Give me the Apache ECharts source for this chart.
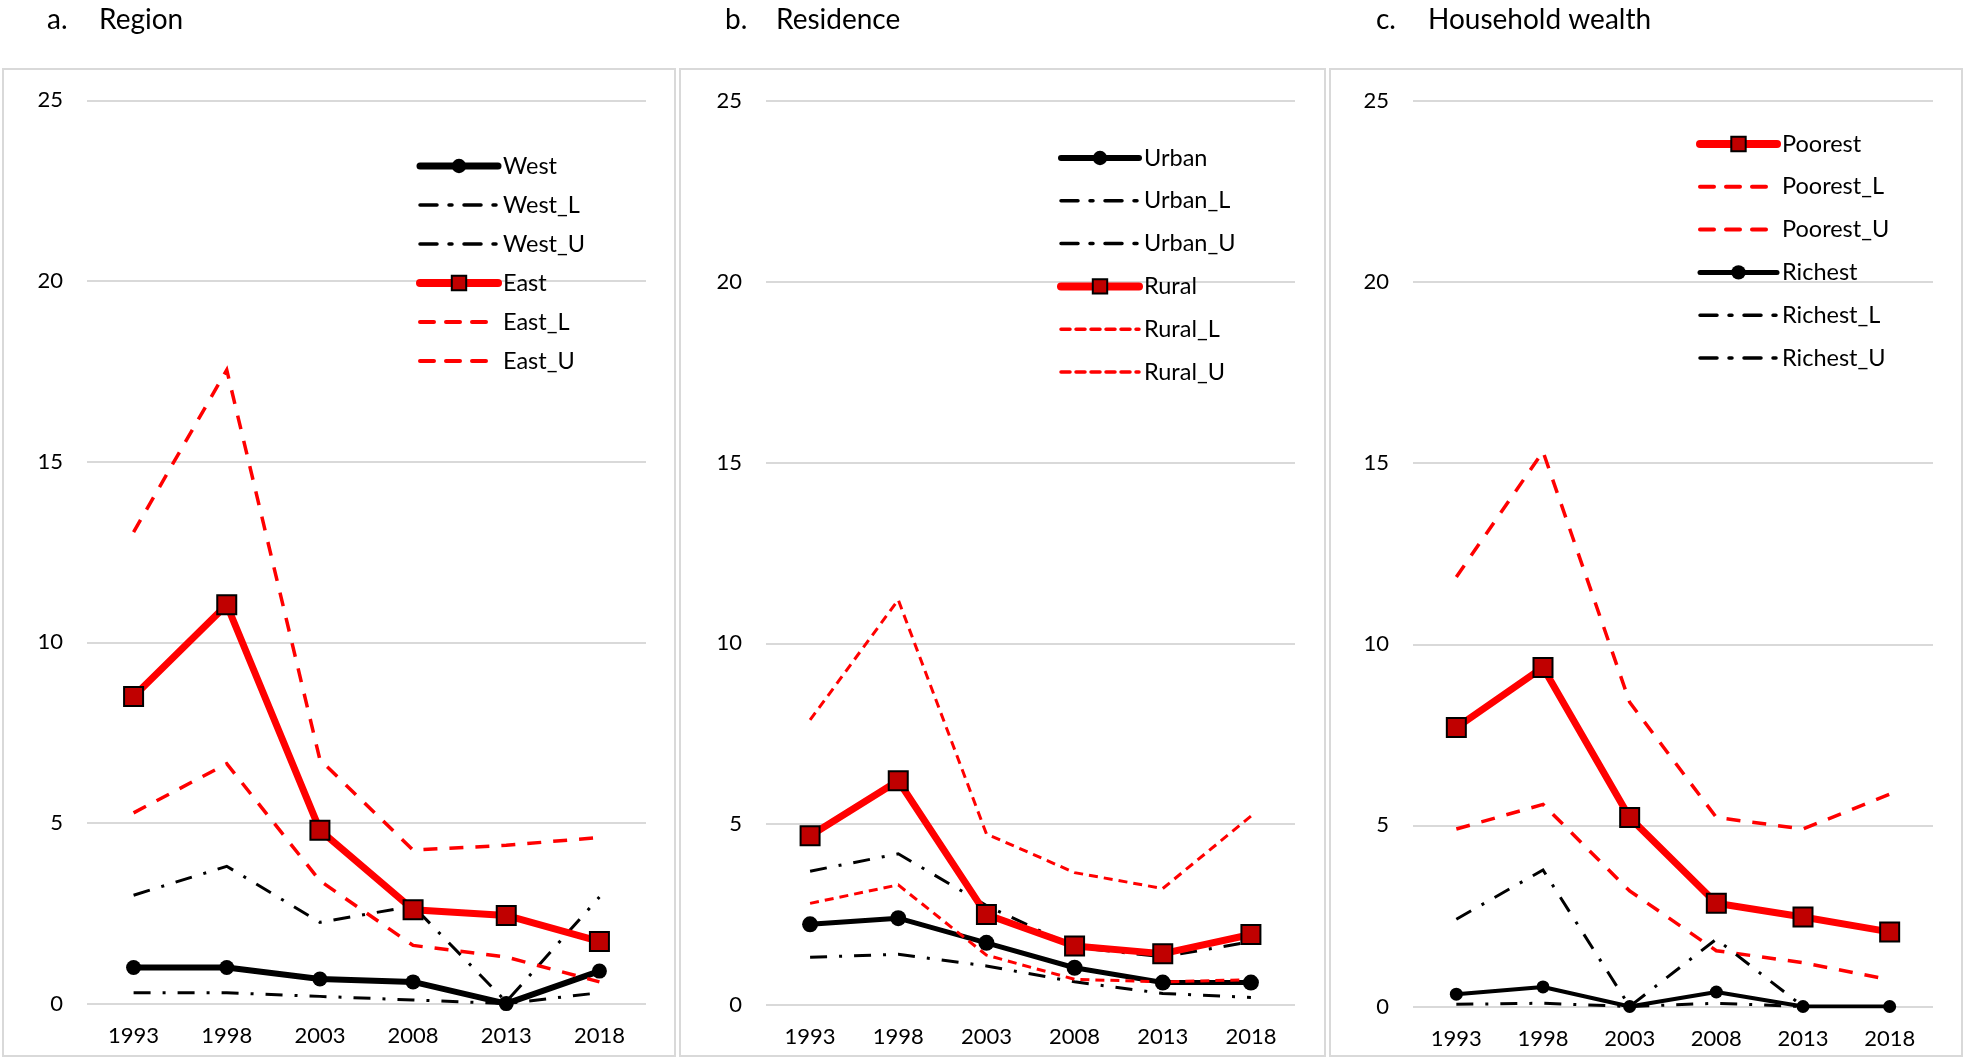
<!DOCTYPE html>
<html><head><meta charset="utf-8">
<script src="https://cdn.jsdelivr.net/npm/echarts@6/dist/echarts.min.js"></script>
<style>html,body{margin:0;padding:0;background:#fff;}#c{width:1967px;height:1060px;}</style>
</head><body><div id="c"></div>
<script>
// ---- data ----
const years = ['1993', '1998', '2003', '2008', '2013', '2018'];
const yTicks = [0, 5, 10, 15, 20, 25];

// a. Region
const west   = [1.0, 1.0, 0.68, 0.6, 0.0, 0.9];
const westL  = [0.3, 0.3, 0.2, 0.1, 0.0, 0.3];
const westU  = [3.0, 3.8, 2.25, 2.7, 0.05, 2.95];
const east   = [8.5, 11.04, 4.8, 2.6, 2.44, 1.72];
const eastL  = [5.28, 6.64, 3.4, 1.61, 1.29, 0.6];
const eastU  = [13.05, 17.54, 6.75, 4.25, 4.38, 4.6];

// b. Residence
const urban  = [2.23, 2.4, 1.72, 1.03, 0.62, 0.62];
const urbanL = [1.32, 1.4, 1.08, 0.64, 0.32, 0.21];
const urbanU = [3.7, 4.18, 2.75, 1.6, 1.33, 1.75];
const rural  = [4.68, 6.2, 2.5, 1.63, 1.42, 1.95];
const ruralL = [2.81, 3.32, 1.38, 0.71, 0.64, 0.7];
const ruralU = [7.88, 11.2, 4.73, 3.66, 3.22, 5.22];

// c. Household wealth
const poorest  = [7.7, 9.36, 5.22, 2.85, 2.47, 2.06];
const poorestL = [4.9, 5.58, 3.19, 1.54, 1.21, 0.74];
const poorestU = [11.86, 15.32, 8.4, 5.22, 4.9, 5.86];
const richest  = [0.34, 0.54, 0.0, 0.4, 0.0, 0.0];
const richestL = [0.06, 0.09, 0.0, 0.09, 0.0, 0.0];
const richestU = [2.41, 3.77, 0.0, 1.86, 0.0, 0.0];

const panelTitles = [['a.', 'Region'], ['b.', 'Residence'], ['c.', 'Household wealth']];

// ---- styling ----
const FONT = 'Lato';
const RED = '#FF0000', DARKRED = '#C00000', BLACK = '#000000', GRID = '#D9D9D9';
const DASHDOT = [17, 12, 3, 12];
const DASH = [14, 12];
const SHORTDASH = [9, 6];

const grids = [
  {left: 87, top: 100.4, width: 559, height: 903.2},
  {left: 766, top: 100.7, width: 529, height: 904.3},
  {left: 1413, top: 101, width: 520, height: 905.5}
];

function xAxis(i) {
  return {
    type: 'category', gridIndex: i, data: years, boundaryGap: true,
    axisLine: {show: false}, axisTick: {show: false},
    axisLabel: {fontFamily: FONT, fontSize: 22, color: BLACK, margin: 21},
    splitLine: {show: false}
  };
}
function yAxis(i) {
  return {
    type: 'value', gridIndex: i, min: yTicks[0], max: yTicks[yTicks.length - 1], interval: 5,
    axisLine: {show: false}, axisTick: {show: false},
    axisLabel: {fontFamily: FONT, fontSize: 22, color: BLACK, margin: 24},
    splitLine: {show: true, lineStyle: {color: GRID, width: 2}}
  };
}

// style presets per series kind
const STY = {
  red:   {kind: 'main', color: RED, width: 7, symbol: 'rect', size: 19},
  west:  {kind: 'main', color: BLACK, width: 6, symbol: 'circle', size: 15},
  urban: {kind: 'main', color: BLACK, width: 5, symbol: 'circle', size: 16},
  rich:  {kind: 'main', color: BLACK, width: 4, symbol: 'circle', size: 13},
  bdd:   {kind: 'band', color: BLACK, width: 3, dash: DASHDOT},
  rdash: {kind: 'band', color: RED, width: 3.5, dash: DASH},
  rshort:{kind: 'band', color: RED, width: 3, dash: SHORTDASH}
};

function mkSeries(name, data, i, s) {
  if (s.kind === 'main') {
    const isRect = s.symbol === 'rect';
    return {name, type: 'line', xAxisIndex: i, yAxisIndex: i, data,
      symbol: s.symbol, symbolSize: s.size, showSymbol: true,
      lineStyle: {color: s.color, width: s.width, cap: 'round', join: 'round'},
      itemStyle: isRect ? {color: DARKRED, borderColor: BLACK, borderWidth: 2} : {color: BLACK},
      emphasis: {disabled: true}};
  }
  return {name, type: 'line', xAxisIndex: i, yAxisIndex: i, data,
    symbol: 'none', showSymbol: false,
    lineStyle: {color: s.color, width: s.width, type: s.dash, cap: 'butt', join: 'miter'},
    itemStyle: {color: s.color, opacity: 0},
    emphasis: {disabled: true}};
}

const panels = [
  [['West', west, STY.west], ['West_L', westL, STY.bdd], ['West_U', westU, STY.bdd],
   ['East', east, STY.red], ['East_L', eastL, STY.rdash], ['East_U', eastU, STY.rdash]],
  [['Urban', urban, STY.urban], ['Urban_L', urbanL, STY.bdd], ['Urban_U', urbanU, STY.bdd],
   ['Rural', rural, STY.red], ['Rural_L', ruralL, STY.rshort], ['Rural_U', ruralU, STY.rshort]],
  [['Poorest', poorest, STY.red], ['Poorest_L', poorestL, STY.rdash], ['Poorest_U', poorestU, STY.rdash],
   ['Richest', richest, STY.rich], ['Richest_L', richestL, STY.bdd], ['Richest_U', richestU, STY.bdd]]
];

const series = [];
panels.forEach((p, i) => p.forEach(d => series.push(mkSeries(d[0], d[1], i, d[2]))));

function legendItem(d) {
  const s = d[2];
  if (s.kind === 'main') {
    const isRect = s.symbol === 'rect';
    return {name: d[0],
      lineStyle: {color: s.color, width: s.width + 1, type: 'solid', cap: 'round'},
      itemStyle: isRect ? {color: DARKRED, borderColor: BLACK, borderWidth: 2} : {color: BLACK, borderWidth: 0}};
  }
  return {name: d[0],
    lineStyle: {color: s.color, width: s.width + 0.5, type: s.dash, cap: 'round'},
    itemStyle: {opacity: 0}};
}
const legendPos = [
  {left: 411, top: 149, w: 78, gap: 15},
  {left: 1052, top: 141, w: 78, gap: 18.8},
  {left: 1691, top: 127, w: 77, gap: 18.8}
];
const legends = panels.map((p, i) => ({
  orient: 'vertical', left: legendPos[i].left, top: legendPos[i].top,
  itemWidth: legendPos[i].w, itemHeight: 18, itemGap: legendPos[i].gap,
  selectedMode: false,
  data: p.map(legendItem),
  textStyle: {fontFamily: FONT, fontSize: 23.5, color: BLACK}
}));

const graphics = [
  {type: 'rect', shape: {x: 3, y: 69, width: 672, height: 987}, style: {fill: 'none', stroke: GRID, lineWidth: 2}},
  {type: 'rect', shape: {x: 680, y: 69, width: 645, height: 987}, style: {fill: 'none', stroke: GRID, lineWidth: 2}},
  {type: 'rect', shape: {x: 1330, y: 69, width: 632, height: 987}, style: {fill: 'none', stroke: GRID, lineWidth: 2}}
];
const titlePos = [[47, 99], [725, 776], [1376, 1428]];
panelTitles.forEach((t, i) => {
  graphics.push({type: 'text', x: titlePos[i][0], y: 20, style: {text: t[0], font: '28px ' + FONT, fill: BLACK, verticalAlign: 'middle'}});
  graphics.push({type: 'text', x: titlePos[i][1], y: 20, style: {text: t[1], font: '28px ' + FONT, fill: BLACK, verticalAlign: 'middle'}});
});

const chart = echarts.init(document.getElementById('c'), null, {renderer: 'canvas'});
chart.setOption({
  animation: false,
  backgroundColor: '#fff',
  grid: grids,
  xAxis: [xAxis(0), xAxis(1), xAxis(2)],
  yAxis: [yAxis(0), yAxis(1), yAxis(2)],
  legend: legends,
  graphic: graphics,
  series
});
</script>
</body></html>
